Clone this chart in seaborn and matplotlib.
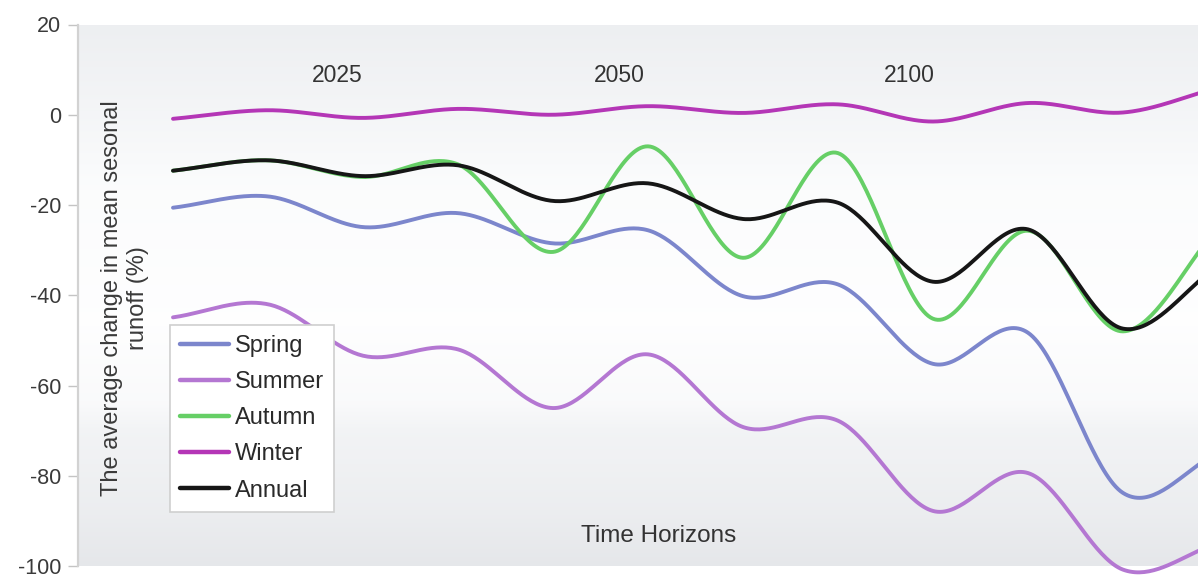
import numpy as np
import pandas as pd
import matplotlib
matplotlib.use("Agg")
import matplotlib.pyplot as plt
import seaborn as sns
from matplotlib.lines import Line2D

# ---------------- data ----------------
seasons = ["Spring", "Summer", "Autumn", "Winter", "Annual"]
spring = [-20.6, -18.1, -24.9, -21.8, -28.5, -25.6, -40.2, -37.6, -55.2, -48.3, -83.8, -75.0]
summer = [-44.9, -42.0, -53.4, -52.0, -65.0, -53.1, -69.2, -67.8, -87.8, -79.4, -100.8, -95.0]
autumn = [-12.4, -10.1, -13.8, -11.0, -30.4, -7.0, -31.7, -8.5, -45.2, -25.7, -48.0, -25.0]
winter = [-0.9, 1.0, -0.7, 1.3, 0.0, 1.9, 0.4, 2.3, -1.5, 2.6, 0.5, 6.0]
annual = [-12.4, -10.1, -13.6, -11.2, -19.1, -15.2, -23.1, -19.5, -37.0, -25.4, -47.4, -33.5]
horizon_labels = ["2025", "2050", "2100"]
horizon_pos = [1.73, 4.7, 7.75]
yticks = [-100, -80, -60, -40, -20, 0, 20]
ytick_labels = ["-100", "-80", "-60", "-40", "-20", "0", "20"]

series = dict(zip(seasons, [spring, summer, autumn, winter, annual]))
colors = {"Spring": "#7c86cc", "Summer": "#b477d2", "Autumn": "#66cf66",
          "Winter": "#b436b6", "Annual": "#161616"}


def catmull_rom(vals, per_seg=40):
    """Smoothed-line rendering (Excel-style) through the data points."""
    p = np.asarray(vals, dtype=float)
    n = len(p)
    ext = np.concatenate([[2 * p[0] - p[1]], p, [2 * p[-1] - p[-2]]])
    xs, ys = [], []
    t = np.linspace(0, 1, per_seg, endpoint=False)
    for i in range(n - 1):
        p0, p1, p2, p3 = ext[i], ext[i + 1], ext[i + 2], ext[i + 3]
        m1 = (p2 - p0) / 2.0
        m2 = (p3 - p1) / 2.0
        h00 = 2 * t**3 - 3 * t**2 + 1
        h10 = t**3 - 2 * t**2 + t
        h01 = -2 * t**3 + 3 * t**2
        h11 = t**3 - t**2
        ys.append(h00 * p1 + h10 * m1 + h01 * p2 + h11 * m2)
        xs.append(i + t)
    xs.append([n - 1])
    ys.append([p[-1]])
    return np.concatenate(xs), np.concatenate(ys)


rows = []
for s in seasons:
    xx, yy = catmull_rom(series[s])
    rows.append(pd.DataFrame({"x": xx, "y": yy, "season": s}))
df = pd.concat(rows, ignore_index=True)

# ---------------- figure ----------------
sns.set_theme(style="white")
plt.rcParams["font.family"] = ["Liberation Sans", "DejaVu Sans"]
plt.rcParams["axes.unicode_minus"] = False

fig = plt.figure(figsize=(11.98, 5.79), dpi=100)
fig.patch.set_facecolor("white")
ax = fig.add_axes([78 / 1198, 13 / 579, 1120 / 1198, 541.5 / 579])
ax.set_facecolor("white")

# background gradient of the plot area
stops_pos = np.array([0.0, 0.10, 0.25, 0.30, 0.45, 0.70, 0.85, 1.0])
stops_col = np.array([
    [0.900, 0.906, 0.918],
    [0.925, 0.931, 0.940],
    [0.950, 0.955, 0.962],
    [0.978, 0.980, 0.984],
    [0.997, 0.997, 0.998],
    [0.985, 0.988, 0.991],
    [0.955, 0.960, 0.967],
    [0.930, 0.937, 0.946],
])
g = np.linspace(0, 1, 400)
grad = np.stack([np.interp(g, stops_pos, stops_col[:, k]) for k in range(3)], axis=1)
ax.imshow(grad[::-1][:, None, :], extent=(0, 1, 0, 1), transform=ax.transAxes,
          aspect="auto", zorder=0, interpolation="bilinear")

sns.lineplot(data=df, x="x", y="y", hue="season", hue_order=seasons,
             palette=colors, sort=False, estimator=None, linewidth=2.8,
             legend=False, ax=ax, zorder=3)
for ln in ax.lines:
    ln.set_clip_on(False)
    ln.set_solid_capstyle("round")

ax.set_xlim(-1.0, 10.79)
ax.set_ylim(-100, 20)
ax.set_xticks([])
ax.set_yticks(yticks)
ax.set_yticklabels(ytick_labels, fontsize=15.5, color="#3a3a3a")
ax.tick_params(axis="y", which="both", left=True, length=7, width=1.0,
               color="#c4c4c4", pad=5)
ax.set_xlabel("")
ax.set_ylabel("")

for side in ["top", "right", "bottom"]:
    ax.spines[side].set_visible(False)
ax.spines["left"].set_color("#d2d2d2")
ax.spines["left"].set_linewidth(1.6)

# horizon labels
for lab, xp in zip(horizon_labels, horizon_pos):
    ax.text(xp, 8.8, lab, ha="center", va="center", fontsize=16.5, color="#333333")

# axis titles placed inside plot
ax.text(0.042, 0.495, "The average change in mean sesonal\nrunoff (%)",
        transform=ax.transAxes, rotation=90, ha="center", va="center",
        multialignment="center", fontsize=17, color="#3a3a3a", linespacing=1.25)
ax.text(0.518, 0.0554, "Time Horizons", transform=ax.transAxes,
        ha="center", va="center", fontsize=17.5, color="#333333")

handles = [Line2D([0], [0], color=colors[s], lw=3.2) for s in seasons]
leg = ax.legend(handles, seasons, loc="upper left", bbox_to_anchor=(0.0821, 0.445),
                borderaxespad=0, fontsize=17, frameon=True, fancybox=False,
                handlelength=2.1, handletextpad=0.25, labelspacing=0.6,
                borderpad=0.42)
leg.get_frame().set_edgecolor("#cfcfcf")
leg.get_frame().set_linewidth(1.2)
leg.get_frame().set_facecolor("white")
leg.get_frame().set_alpha(1)
leg.set_zorder(5)
for t in leg.get_texts():
    t.set_color("#2a2a2a")

fig.savefig("out.png", dpi=100, facecolor="white")
